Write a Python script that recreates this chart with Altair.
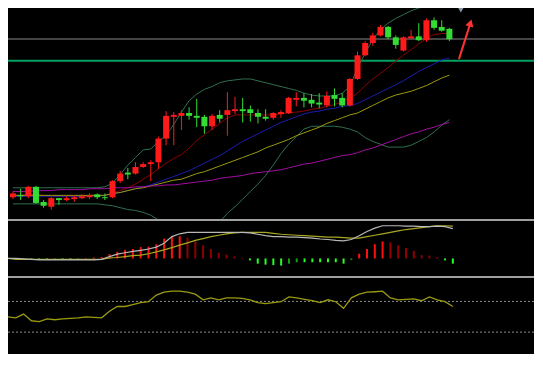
import altair as alt
import pandas as pd

# ---------------- data ----------------
open_ = [28,30,29,39,23,18,27,25,26,27,28,31,28,28,45,54,53,60,63,65,90,113,114,117,114,113,103,115,115,119,
         121,121,117,113,112,116,117,131,133,131,128,125,136,133,125,153,178,191,199,208,197,183,196,198,194,215,208,206]
close_ = [32,29,39,22,19,27,25,27,28,29,30,28,27,45,53,52,60,63,65,90,114,115,117,114,112,103,114,111,120,121,
          119,117,113,111,117,118,133,133,130,127,126,135,132,125,153,178,191,199,208,197,189,197,198,194,215,207,204,195]
high_ = [34,37,40,40,25,28,27,29,30,31,32,32,32,46,56,59,65,65,67,92,119,118,120,123,132,115,116,120,139,134,
         133,125,121,121,118,120,134,139,138,137,138,140,143,138,154,182,193,202,210,209,199,198,205,212,217,218,215,207]
low_ = [26,25,27,21,17,15,20,24,23,26,26,26,25,27,43,47,52,59,45,58,83,83,99,110,102,95,99,107,93,116,
        107,108,106,109,110,112,116,124,123,123,122,123,124,123,124,152,177,188,198,195,185,182,195,193,192,205,203,193]

boll_up = [38,38,38,38,38,38,38,38,38,38,38,38,39,43,52,62,70,78,79,87,93,105,118,130,137,142,145,149,151,152,
           153,153,151,149,147,145,143,141,138,136,135,135,135,138,145,165,180,195,205,212,217,221,225,228,230,232,234,235]
boll_dn = [21,21,21,21,21,21,21,21,21,21,21,21,20,19,17,15,14,12,9,4,-2,-8,-12,-14,-13,-8,-2,2,11,18,
           26,34,42,51,62,74,84,92,100,103,103,103,103,102,100,97,91,87,84,81,81,81,83,87,91,97,104,110]
ma_red = [30,30,31,31,30,29,29,29,29,29,30,30,30,32,35,38,42,47,52,58,64,69,73,80,88,94,100,106,112,115,
          115,115,115,115,115,116,117,118,119,121,122,124,126,129,133,138,146,153,159,165,172,178,184,190,196,200,201,201]
ma_blue = [29,29,29,29,29,29,29,29,29,29,29,29,30,31,33,35,37,39,41,44,47,50,53,56,60,64,68,72,77,82,
           87,91,95,99,103,107,110,113,116,118,119,121,122,124,125,127,131,135,139,143,147,151,156,161,165,169,173,175]
ma_olive = [30,30,30,30,30,30,30,30,30,30,30,30,30,32,33,35,37,38,40,42,44,46,47,50,53,55,58,61,64,67,
            70,73,76,80,83,86,89,93,96,99,102,106,109,112,115,117,121,125,129,133,136,138,140,143,146,150,154,157]
ma_purple = [34,34,34,35,35,35,36,36,36,36,37,37,37,38,38,38,39,39,40,40,41,41,42,43,44,45,46,48,49,50,
             51,53,54,55,56,57,59,61,63,64,66,68,70,72,73,75,78,80,83,86,89,92,95,97,100,102,105,107]

macd_hist = [0,0,0,-0.5,-1,-1.5,-1,-1,-1,-0.5,0.5,1,1.5,4.5,7,9,10,12,12.5,15,21,23,23.5,22,18,14,10,6,4,2,
             0.8,-2,-5.5,-6.5,-7,-7.5,-5.5,-4,-4,-4,-4,-4,-4,-5.5,-1.5,5,10,15,18,17,14,11,8,3.5,3,1.5,-2,-5.5]
macd_dif = [0,0,-0.5,-1,-1.5,-1.5,-1.5,-1.5,-1.5,-1.5,-1.5,-1.5,-1,2,4.5,6,7.5,8.5,10,12,16,23,26,27.5,27.5,27.5,27.5,27.5,27.5,27.5,
            27.5,27,25.5,24,23,23,22.5,22.5,22,21.5,20.5,20,19,18.5,20,24,28.5,32,34.5,34.5,34.5,34,34,33.5,33.5,34,33.5,31.5]
macd_dea = [0,-1,-1,-1,-1,-1,-1,-1,-1,-1,-1,-1,-1,0.5,1,2,3,3.5,5,7,9,11.5,14,16.5,19,21,23,24.5,26,27,
            27.5,27.5,27.5,27.5,26.5,25.5,25,24.5,24,23.5,23,22.5,22.5,22,21.5,21.5,23,24.5,26,27.5,29,30.5,31.5,32.5,33.5,34.5,34.5,34]

rsi = [49.8,48.6,53.5,44.8,43.6,47.3,46.1,47.3,47.9,48.6,49.8,49.2,48.6,57.2,63.4,63.4,65.9,68.4,69.6,78.3,
       82.0,83.3,83.3,82.0,79.5,72.1,74.6,72.1,74.6,74.6,74.0,72.1,68.4,67.1,68.4,69.6,75.8,74.6,72.7,70.9,
       68.4,72.1,69.6,61.0,74.6,79.5,82.0,82.6,83.3,74.6,72.1,72.7,73.3,70.9,75.8,72.1,69.6,63.4]

levels = [195.3, 172.3]
level_names = ["resistance", "support"]
rsi_levels = [70, 30]

arrow_x = [58.25, 59.7]
arrow_y = [174, 211]
marker_x = [58.5]
marker_y = [227]

# ---------------- styling ----------------
W = 526
RED, GREEN = "#ff1a1a", "#33dd33"
idx = list(range(len(open_)))

xs = alt.Scale(domain=[0, 67.4], nice=False, zero=False)
X = alt.X("i:Q", scale=xs, axis=None)
ys = alt.Scale(domain=[5, 228], nice=False, zero=False)

candles = pd.DataFrame({"i": idx, "open": open_, "close": close_, "high": high_, "low": low_})
candles["dir"] = ["up" if c >= o else "down" for o, c in zip(open_, close_)]
ccolor = alt.Color("dir:N", scale=alt.Scale(domain=["up", "down"], range=[RED, GREEN]), legend=None)

wicks = alt.Chart(candles).mark_rule(strokeWidth=1, clip=True).encode(
    x=X, y=alt.Y("low:Q", scale=ys, axis=None), y2="high:Q", color=ccolor)
bodies = alt.Chart(candles).mark_bar(size=6, clip=True).encode(
    x=X, y=alt.Y("open:Q", scale=ys, axis=None), y2="close:Q", color=ccolor)
candle_layer = alt.layer(wicks, bodies)

line_names = ["boll_up", "boll_dn", "ma_red", "ma_blue", "ma_olive", "ma_purple"]
line_cols = ["#2f6f4f", "#2f6f4f", "#8c0000", "#1c1cb0", "#9a9a10", "#a010a0"]
line_layers = []
for name, col, vals in zip(line_names, line_cols, [boll_up, boll_dn, ma_red, ma_blue, ma_olive, ma_purple]):
    d = pd.DataFrame({"i": idx, "v": vals})
    line_layers.append(alt.Chart(d).mark_line(strokeWidth=1, clip=True, color=col).encode(
        x=X, y=alt.Y("v:Q", scale=ys, axis=None)))

hl_r = alt.Chart(pd.DataFrame({"y": [levels[0]]})).mark_rule(color="#5c5c5c", strokeWidth=1.5, clip=True).encode(
    y=alt.Y("y:Q", scale=ys, axis=None))
hl_s = alt.Chart(pd.DataFrame({"y": [levels[1]]})).mark_rule(color="#00a060", strokeWidth=2, clip=True).encode(
    y=alt.Y("y:Q", scale=ys, axis=None))

arr_df = pd.DataFrame({"x0": [arrow_x[0]], "x1": [arrow_x[1]], "y0": [arrow_y[0]], "y1": [arrow_y[1]]})
arrow_line = alt.Chart(arr_df).mark_rule(color="#ff3333", strokeWidth=2, clip=True).encode(
    x=alt.X("x0:Q", scale=xs, axis=None), x2="x1:Q",
    y=alt.Y("y0:Q", scale=ys, axis=None), y2="y1:Q")
arrow_head = alt.Chart(arr_df).mark_point(shape="triangle", filled=True, color="#ff3333", size=70,
                                          angle=17, opacity=1, clip=True).encode(
    x=alt.X("x1:Q", scale=xs, axis=None), y=alt.Y("y1:Q", scale=ys, axis=None))
mk_df = pd.DataFrame({"x": marker_x, "y": marker_y})
marker = alt.Chart(mk_df).mark_point(shape="triangle-down", filled=True, color="#8898a8", size=70,
                                     opacity=1, clip=True).encode(
    x=alt.X("x:Q", scale=xs, axis=None), y=alt.Y("y:Q", scale=ys, axis=None))

main = alt.layer(hl_r, hl_s, *line_layers, candle_layer, arrow_line, arrow_head, marker).properties(
    width=W, height=211)

# MACD
mcols = []
prev = 0
for v in macd_hist:
    if v >= 0:
        mcols.append("ru" if v >= prev else "rd")
    else:
        mcols.append("gu" if v <= prev else "gd")
    prev = v
macd_df = pd.DataFrame({"i": idx, "h": macd_hist, "z": [0] * len(idx), "c": mcols,
                        "dif": macd_dif, "dea": macd_dea})
ms = alt.Scale(domain=[-18.5, 39.5], nice=False, zero=False)
hist = alt.Chart(macd_df).mark_rule(strokeWidth=2, clip=True).encode(
    x=X, y=alt.Y("h:Q", scale=ms, axis=None), y2="z:Q",
    color=alt.Color("c:N", scale=alt.Scale(domain=["ru", "rd", "gu", "gd"],
                                           range=["#ff1010", "#900000", "#22ff22", "#10a010"]), legend=None))
dif = alt.Chart(macd_df).mark_line(color="#b8b8b8", strokeWidth=1.2, clip=True).encode(
    x=X, y=alt.Y("dif:Q", scale=ms, axis=None))
dea = alt.Chart(macd_df).mark_line(color="#a8a820", strokeWidth=1.2, clip=True).encode(
    x=X, y=alt.Y("dea:Q", scale=ms, axis=None))
macd = alt.layer(hist, dea, dif).properties(width=W, height=55)

# RSI
rsi_df = pd.DataFrame({"i": idx, "r": rsi})
rs = alt.Scale(domain=[1.5, 100.5], nice=False, zero=False)
rl_df = pd.DataFrame({"y": rsi_levels})
rsi_lv = alt.Chart(rl_df).mark_rule(color="#8a8a8a", strokeWidth=1, strokeDash=[2, 2], clip=True).encode(
    y=alt.Y("y:Q", scale=rs, axis=None))
rsi_line = alt.Chart(rsi_df).mark_line(color="#9a9a10", strokeWidth=1.3, clip=True).encode(
    x=X, y=alt.Y("r:Q", scale=rs, axis=None))
rsip = alt.layer(rsi_lv, rsi_line).properties(width=W, height=76)

chart = alt.vconcat(main, macd, rsip, spacing=2).properties(
    background="#a0a0a0", padding=0
).resolve_scale(color="independent").configure_view(fill="black", strokeWidth=0).configure_concat(spacing=2)

chart.save("out.html", embed_options={"renderer": "svg", "actions": False})
